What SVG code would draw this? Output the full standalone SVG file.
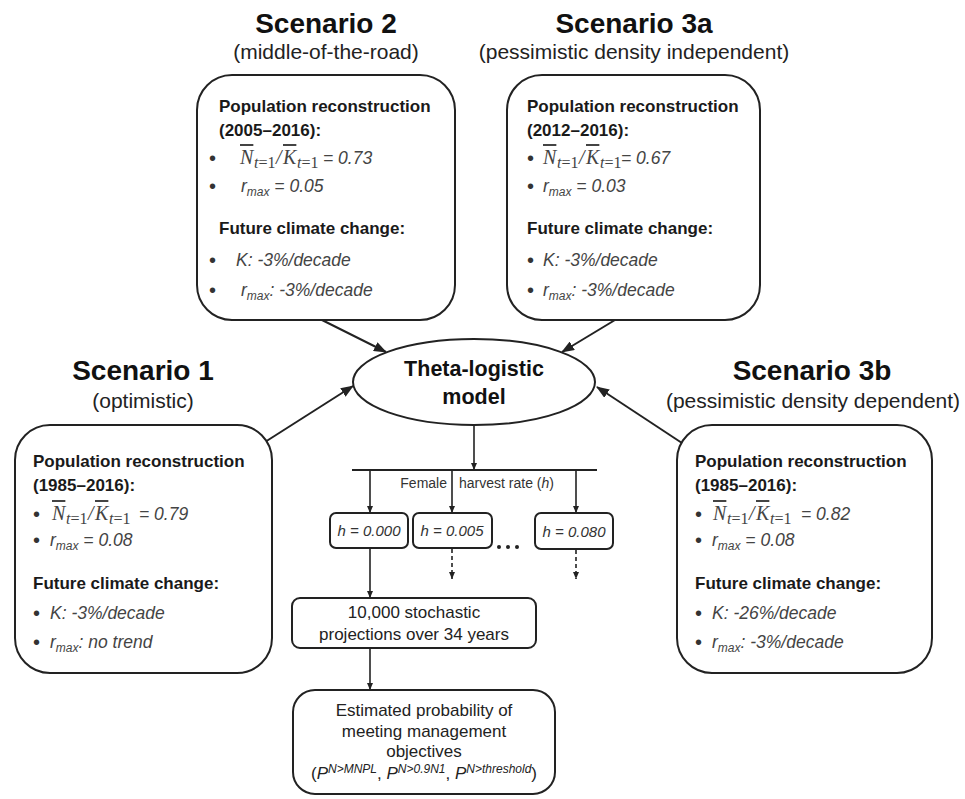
<svg xmlns="http://www.w3.org/2000/svg" width="965" height="799" viewBox="0 0 965 799">
<style>
.title{font:bold 28px "Liberation Sans",Arial,sans-serif;text-anchor:middle;fill:#111}
.sub{font:21px "Liberation Sans",Arial,sans-serif;text-anchor:middle;fill:#222}
.hd{font:bold 17px "Liberation Sans",Arial,sans-serif;fill:#1a1a1a}
.it{font:italic 17.5px "Liberation Sans",Arial,sans-serif;fill:#444}
.bl{font:20px "Liberation Sans",Arial,sans-serif;fill:#333}
.m{font:italic 20px "Liberation Serif","Times New Roman",serif;fill:#444}
.ov{text-decoration:overline}
.ms{font-size:16px;font-style:normal}
.iv{font:italic 17.5px "Liberation Sans",Arial,sans-serif}
.sb{font-size:12px}
.box{fill:#fff;stroke:#222;stroke-width:2}
.conn{stroke:#222;stroke-width:2;fill:none}
.thin{stroke:#222;stroke-width:1.6;fill:none}
.dash{stroke:#222;stroke-width:1.6;fill:none;stroke-dasharray:4 3}
.ct{font:17px "Liberation Sans",Arial,sans-serif;text-anchor:middle;fill:#222}
.hb{font:italic 15px "Liberation Sans",Arial,sans-serif;text-anchor:middle;fill:#333}
.lab{font:14px "Liberation Sans",Arial,sans-serif;fill:#333}
.th{font:bold 21.5px "Liberation Sans",Arial,sans-serif;text-anchor:middle;fill:#111}
.sp{font-style:italic;font-size:12px}
.pp{font-style:italic;font-size:17px}
</style>
<defs>
<marker id="ah" markerUnits="userSpaceOnUse" markerWidth="13" markerHeight="10" refX="12" refY="5" orient="auto"><path d="M0,0 L13,5 L0,10 z" fill="#222"/></marker>
<marker id="as" markerUnits="userSpaceOnUse" markerWidth="7" markerHeight="6" refX="7" refY="3" orient="auto"><path d="M0,0 L7,3 L0,6 z" fill="#222"/></marker>
</defs>

<g id="connectors">
<line class="conn" x1="322" y1="320" x2="386" y2="352" marker-end="url(#ah)"/>
<line class="conn" x1="615" y1="320" x2="562" y2="352" marker-end="url(#ah)"/>
<line class="conn" x1="265" y1="442" x2="353" y2="386" marker-end="url(#ah)"/>
<line class="conn" x1="685" y1="445" x2="597" y2="387" marker-end="url(#ah)"/>
<line class="thin" x1="474" y1="425" x2="474" y2="470" marker-end="url(#as)"/>
<line class="conn" x1="352" y1="470" x2="597" y2="470"/>
<line class="thin" x1="370" y1="470" x2="370" y2="513" marker-end="url(#as)"/>
<line class="thin" x1="452" y1="470" x2="452" y2="513" marker-end="url(#as)"/>
<line class="thin" x1="576" y1="470" x2="576" y2="513" marker-end="url(#as)"/>
<text class="lab" x="447" y="488" text-anchor="end">Female</text>
<text class="lab" x="459" y="488">harvest rate (<tspan font-style="italic">h</tspan>)</text>
<line class="dash" x1="452" y1="549" x2="452" y2="579" marker-end="url(#as)"/>
<line class="dash" x1="576" y1="550" x2="576" y2="579" marker-end="url(#as)"/>
<line class="thin" x1="370" y1="549" x2="370" y2="598" marker-end="url(#as)"/>
<line class="thin" x1="370" y1="648" x2="370" y2="690" marker-end="url(#as)"/>
</g>

<g id="scenario2">
<text class="title" x="326" y="33">Scenario 2</text>
<text class="sub" x="326" y="59">(middle-of-the-road)</text>
<rect class="box" x="197" y="75" width="258" height="245" rx="35"/>
<text class="hd" x="219" y="112">Population reconstruction</text>
<text class="hd" x="219" y="136">(2005–2016):</text>
<text class="bl" x="209" y="165">•</text>
<text class="m" y="164"><tspan x="240" class="ov">N</tspan><tspan x="254" y="168" class="ms"><tspan font-style="italic">t</tspan>=1</tspan><tspan x="276" y="164">/</tspan><tspan x="283" class="ov">K</tspan><tspan x="297" y="168" class="ms"><tspan font-style="italic">t</tspan>=1</tspan><tspan x="323" y="164" class="iv">= 0.73</tspan></text>
<text class="bl" x="209" y="193">•</text>
<text class="it" x="241" y="192">r<tspan class="sb" dy="4">max</tspan><tspan dy="-4"> = 0.05</tspan></text>
<text class="hd" x="219" y="234">Future climate change:</text>
<text class="bl" x="209" y="267">•</text>
<text class="it" x="236" y="266">K: -3%/decade</text>
<text class="bl" x="209" y="297">•</text>
<text class="it" x="241" y="296">r<tspan class="sb" dy="4">max</tspan><tspan dy="-4">: -3%/decade</tspan></text>
</g>

<g id="scenario3a">
<text class="title" x="634" y="33">Scenario 3a</text>
<text class="sub" x="634" y="59">(pessimistic density independent)</text>
<rect class="box" x="507" y="75" width="253" height="245" rx="35"/>
<text class="hd" x="527" y="112">Population reconstruction</text>
<text class="hd" x="527" y="136">(2012–2016):</text>
<text class="bl" x="527" y="165">•</text>
<text class="m" y="164"><tspan x="543" class="ov">N</tspan><tspan x="557" y="168" class="ms"><tspan font-style="italic">t</tspan>=1</tspan><tspan x="579" y="164">/</tspan><tspan x="586" class="ov">K</tspan><tspan x="600" y="168" class="ms"><tspan font-style="italic">t</tspan>=1</tspan><tspan x="621" y="164" class="iv">= 0.67</tspan></text>
<text class="bl" x="527" y="193">•</text>
<text class="it" x="543" y="192">r<tspan class="sb" dy="4">max</tspan><tspan dy="-4"> = 0.03</tspan></text>
<text class="hd" x="527" y="234">Future climate change:</text>
<text class="bl" x="527" y="267">•</text>
<text class="it" x="543" y="266">K: -3%/decade</text>
<text class="bl" x="527" y="297">•</text>
<text class="it" x="543" y="296">r<tspan class="sb" dy="4">max</tspan><tspan dy="-4">: -3%/decade</tspan></text>
</g>

<g id="scenario1">
<text class="title" x="143" y="380">Scenario 1</text>
<text class="sub" x="143" y="408">(optimistic)</text>
<rect class="box" x="15" y="425" width="257" height="248" rx="35"/>
<text class="hd" x="33" y="467">Population reconstruction</text>
<text class="hd" x="33" y="491">(1985–2016):</text>
<text class="bl" x="33" y="521">•</text>
<text class="m" y="520"><tspan x="52" class="ov">N</tspan><tspan x="66" y="524" class="ms"><tspan font-style="italic">t</tspan>=1</tspan><tspan x="88" y="520">/</tspan><tspan x="95" class="ov">K</tspan><tspan x="109" y="524" class="ms"><tspan font-style="italic">t</tspan>=1</tspan><tspan x="139" y="520" class="iv">= 0.79</tspan></text>
<text class="bl" x="33" y="547">•</text>
<text class="it" x="50" y="546">r<tspan class="sb" dy="4">max</tspan><tspan dy="-4"> = 0.08</tspan></text>
<text class="hd" x="33" y="589">Future climate change:</text>
<text class="bl" x="33" y="620">•</text>
<text class="it" x="50" y="619">K: -3%/decade</text>
<text class="bl" x="33" y="649">•</text>
<text class="it" x="50" y="648">r<tspan class="sb" dy="4">max</tspan><tspan dy="-4">: no trend</tspan></text>
</g>

<g id="scenario3b">
<text class="title" x="812" y="380">Scenario 3b</text>
<text class="sub" x="813" y="408">(pessimistic density dependent)</text>
<rect class="box" x="677" y="425" width="255" height="248" rx="35"/>
<text class="hd" x="695" y="467">Population reconstruction</text>
<text class="hd" x="695" y="491">(1985–2016):</text>
<text class="bl" x="695" y="521">•</text>
<text class="m" y="520"><tspan x="713" class="ov">N</tspan><tspan x="727" y="524" class="ms"><tspan font-style="italic">t</tspan>=1</tspan><tspan x="749" y="520">/</tspan><tspan x="756" class="ov">K</tspan><tspan x="770" y="524" class="ms"><tspan font-style="italic">t</tspan>=1</tspan><tspan x="801" y="520" class="iv">= 0.82</tspan></text>
<text class="bl" x="695" y="547">•</text>
<text class="it" x="712" y="546">r<tspan class="sb" dy="4">max</tspan><tspan dy="-4"> = 0.08</tspan></text>
<text class="hd" x="695" y="589">Future climate change:</text>
<text class="bl" x="695" y="620">•</text>
<text class="it" x="712" y="619">K: -26%/decade</text>
<text class="bl" x="695" y="649">•</text>
<text class="it" x="712" y="648">r<tspan class="sb" dy="4">max</tspan><tspan dy="-4">: -3%/decade</tspan></text>
</g>

<g id="theta">
<ellipse class="box" cx="474" cy="382" rx="121" ry="43"/>
<text class="th" x="474" y="376">Theta-logistic</text>
<text class="th" x="474" y="404">model</text>
</g>

<g id="h000">
<rect class="box" x="330" y="513" width="78" height="35" rx="6"/>
<text class="hb" x="369" y="536">h = 0.000</text>
</g>
<g id="h005">
<rect class="box" x="413" y="513" width="79" height="35" rx="6"/>
<text class="hb" x="452" y="536">h = 0.005</text>
</g>
<g id="ellipsis">
<circle cx="499" cy="547" r="2" fill="#222"/>
<circle cx="508" cy="547" r="2" fill="#222"/>
<circle cx="517" cy="547" r="2" fill="#222"/>
</g>
<g id="h080">
<rect class="box" x="535" y="513" width="78" height="36" rx="6"/>
<text class="hb" x="574" y="537">h = 0.080</text>
</g>

<g id="projections">
<rect class="box" x="292" y="598" width="244" height="50" rx="8"/>
<text class="ct" x="414" y="618">10,000 stochastic</text>
<text class="ct" x="414" y="640">projections over 34 years</text>
</g>

<g id="probability">
<rect class="box" x="293" y="690" width="262" height="104" rx="22"/>
<text class="ct" x="424" y="716">Estimated probability of</text>
<text class="ct" x="424" y="737">meeting management</text>
<text class="ct" x="424" y="757">objectives</text>
<text class="ct" x="424" y="779">(<tspan class="pp">P</tspan><tspan class="sp" dy="-6">N&gt;MNPL</tspan><tspan dy="6">, </tspan><tspan class="pp">P</tspan><tspan class="sp" dy="-6">N&gt;0.9N1</tspan><tspan dy="6">, </tspan><tspan class="pp">P</tspan><tspan class="sp" dy="-6">N&gt;threshold</tspan><tspan dy="6">)</tspan></text>
</g>
</svg>
